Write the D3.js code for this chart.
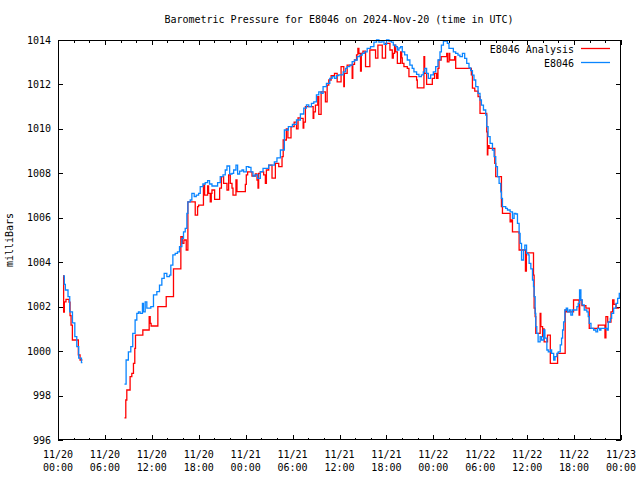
<!DOCTYPE html>
<html>
<head>
<meta charset="utf-8">
<script src="https://cdn.jsdelivr.net/npm/d3@7"></script>
<style>
html,body{margin:0;padding:0;background:#fff;}
svg text{font-family:"DejaVu Sans Mono","Liberation Mono",monospace;font-size:10px;fill:#000;}
</style>
</head>
<body>
<svg id="chart" width="640" height="480"></svg>
<script>
// ---- data (hours after 2024-11-20 00:00 UTC, pressure in mb) ----
const titleText = "Barometric Pressure for E8046 on 2024-Nov-20 (time in UTC)";
const yLabel = "milliBars";
const seriesNames = ["E8046 Analysis", "E8046"];
const seriesColors = ["#ff0000", "#0a85ff"];

const yTicks = [996, 998, 1000, 1002, 1004, 1006, 1008, 1010, 1012, 1014];
const xTickHours = [0, 6, 12, 18, 24, 30, 36, 42, 48, 54, 60, 66, 72];
const xTickDates = ["11/20","11/20","11/20","11/20","11/21","11/21","11/21","11/21","11/22","11/22","11/22","11/22","11/23"];
const xTickTimes = ["00:00","06:00","12:00","18:00","00:00","06:00","12:00","18:00","00:00","06:00","12:00","18:00","00:00"];

const analysisHours = [
 0.68,0.72,0.81,1.02,1.41,1.54,1.67,1.84,2.60,2.82,3.12, 5,
 8.50,8.67,8.80,9.22,9.44,9.65,9.82,9.91,10.85,11.66,11.79,11.91,12.77,13.84,14.77,
 15.71,15.90,16.10,16.40,16.61,17.55,17.85,17.98,18.60,18.75,19.13,19.26,19.47,19.60,19.69,
 20.03,20.67,20.90,21.18,21.61,21.82,22.03,22.25,22.38,22.76,22.89,23.96,24.08,24.25,24.81,
 25.24,25.45,25.58,25.66,25.88,26.30,26.52,26.65,26.95,27.37,27.80,28.23,28.65,28.80,29.20,
 29.40,29.80,30.20,30.50,30.70,31.00,31.35,31.43,31.64,32.63,32.71,32.92,33.22,33.35,33.65,
 34.20,34.42,34.63,34.93,35.36,35.70,36.20,36.55,36.62,36.98,37.62,37.70,37.92,38.18,38.35,
 38.48,38.69,38.79,39.00,39.33,39.88,40.61,40.91,41.47,41.89,42.45,42.75,42.88,43.04,43.18,
 43.40,43.82,43.95,44.03,44.24,44.67,44.88,45.86,45.95,46.80,46.89,47.14,47.87,48.16,48.42,
 48.59,48.72,49.00,49.71,49.79,50.00,50.10,50.73,50.86,52.86,53.00,53.30,53.72,53.97,54.83,
 54.91,54.97,55.13,55.86,55.98,56.71,56.84,57.82,57.95,58.12,58.97,59.78,59.90,60.81,60.89,
 61.02,61.10,61.66,61.75,61.97,62.10,62.17,62.60,62.96,63.89,64.86,65.00,65.93,66.64,66.72,
 67.00,67.51,67.94,69.09,69.95,70.07,70.30,70.72,70.93,71.10,71.36,71.78
];
const analysisPressure = [
 1003.4,1001.75,1002.22,1002.33,1002.2,1001.6,1001.17,1000.5,999.83,999.6,999.6, null,
 997.0,997.8,998.25,998.85,999.0,999.45,1000.12,1000.72,1000.95,1001.55,1001.25,1001.13,1002.0,1002.45,1003.7,
 1005.15,1004.85,1005.0,1004.55,1006.72,1006.12,1006.5,1006.57,1007.47,1007.02,1007.43,1007.1,1006.72,1007.1,1007.25,
 1006.83,1007.33,1007.85,1007.55,1007.25,1007.93,1007.55,1007.33,1007.02,1007.7,1007.18,1007.5,1007.93,1008.07,1007.88,
 1007.97,1007.7,1007.33,1008.0,1008.07,1007.93,1007.55,1008.15,1008.37,1007.78,1008.45,1008.3,1008.75,1009.5,1010.0,
 1009.6,1010.1,1010.3,1010.0,1010.5,1010.47,1010.03,1010.3,1011.0,1010.47,1010.77,1011.07,1011.45,1010.65,1011.67,
 1011.22,1011.97,1012.2,1012.4,1012.5,1012.12,1012.8,1011.9,1012.5,1012.87,1012.27,1012.9,1013.1,1013.33,1013.62,
 1013.4,1012.6,1013.4,1013.5,1012.8,1013.55,1013.18,1013.77,1013.18,1013.85,1013.55,1013.18,1013.4,1013.77,1013.47,
 1012.95,1013.47,1013.2,1012.95,1012.8,1012.72,1012.35,1012.2,1011.85,1013.25,1012.5,1012.0,1012.27,1012.5,1012.27,
 1012.72,1013.1,1013.25,1013.4,1013.02,1013.4,1013.1,1013.25,1012.72,1012.43,1011.83,1011.7,1011.45,1010.7,1009.87,
 1008.83,1009.25,1009.12,1008.45,1007.85,1006.5,1006.2,1005.82,1005.9,1005.37,1004.55,1003.6,1004.42,1003.42,1001.93,
 1001.55,1000.8,1001.7,1001.1,1000.65,1001.0,1000.42,1000.72,999.45,999.9,1001.85,1001.77,1002.3,1001.62,1002.3,
 1002.05,1001.93,1001.02,1001.17,1000.6,1001.55,1001.3,1001.77,1002.3,1002.1,1001.93,1001.93
];

const stationHours = [
 0.68,0.81,0.94,1.28,1.50,1.85,2.15,2.40,2.65,3.00,3.12, 5,
 8.50,8.71,9.00,9.31,9.56,9.86,10.08,10.29,10.50,10.80,10.93,11.15,11.36,11.87,12.21,12.64,12.98,
 13.28,13.58,13.92,14.26,14.43,14.69,14.99,15.28,15.54,15.84,16.05,16.27,16.48,16.61,16.91,17.12,
 17.42,17.68,17.98,18.19,18.53,18.83,19.13,19.38,19.69,20.10,20.41,20.75,21.10,21.39,21.61,21.95,
 22.25,22.46,22.76,22.97,23.23,23.53,23.74,24.08,24.40,24.68,24.94,25.20,25.53,25.88,26.22,26.65,
 26.94,27.37,27.67,28.00,28.44,28.95,29.46,29.98,30.50,31.00,31.43,31.77,32.07,32.41,32.71,33.05,
 33.35,33.65,33.90,34.33,34.76,35.06,35.36,35.61,35.90,36.47,36.77,36.98,37.32,37.62,37.92,38.27,
 38.60,38.90,39.20,39.54,39.97,40.40,40.74,41.04,41.35,41.70,42.02,42.32,42.63,42.88,43.18,43.40,
 43.60,43.82,44.03,44.33,44.67,45.00,45.30,45.52,45.86,46.16,46.47,46.72,46.89,47.14,47.36,47.66,
 48.00,48.30,48.59,48.85,49.03,49.29,49.79,50.00,50.56,50.86,51.15,51.40,51.72,52.01,52.27,52.56,
 52.78,53.00,53.20,53.42,53.72,53.97,54.15,54.41,54.70,54.83,55.00,55.26,55.56,55.77,55.98,56.20,
 56.41,56.62,56.71,56.84,57.26,57.48,57.82,58.12,58.33,58.55,58.76,58.97,59.10,59.28,59.53,59.70,
 59.92,60.12,60.25,60.47,60.68,60.81,60.89,61.02,61.10,61.23,61.40,61.66,61.84,62.10,62.27,62.52,
 62.70,62.96,63.13,63.39,63.56,63.80,63.97,64.23,64.40,64.53,64.66,64.82,65.00,65.17,65.38,65.59,
 65.80,66.36,66.53,66.70,66.87,67.04,67.30,67.64,67.81,67.94,68.16,68.50,68.79,69.01,69.27,69.43,
 69.95,70.20,70.37,70.63,70.80,71.06,71.36,71.57,71.78,71.90
];
const stationPressure = [
 1003.38,1003.0,1002.75,1002.45,1001.77,1001.27,1000.65,1000.2,999.68,999.48,999.48, null,
 998.51,999.6,999.97,1000.2,1000.8,1001.4,1001.7,1001.77,1001.7,1002.15,1001.77,1002.22,1001.93,1002.0,1002.53,1002.68,1002.97,
 1003.27,1003.5,1003.35,1003.42,1003.87,1004.33,1004.4,1004.47,1004.7,1005.07,1005.37,1005.52,1006.2,1006.72,1006.8,1007.1,
 1006.95,1007.02,1007.1,1007.4,1007.52,1007.58,1007.67,1007.52,1007.43,1007.43,1007.58,1007.85,1007.93,1008.15,1008.33,1007.97,
 1008.0,1008.15,1008.37,1007.97,1008.1,1008.15,1008.07,1008.3,1008.27,1008.07,1007.88,1007.93,1007.77,1008.08,1008.22,1008.22,
 1008.37,1008.37,1008.52,1008.7,1009.05,1009.95,1010.1,1010.2,1010.4,1010.67,1010.93,1011.08,1011.0,1011.15,1011.22,1011.53,
 1011.67,1011.6,1011.9,1012.05,1012.27,1012.35,1012.27,1012.4,1012.43,1012.57,1012.72,1012.8,1012.87,1013.03,1013.1,1013.25,
 1013.32,1013.4,1013.47,1013.62,1013.7,1013.9,1014.0,1013.9,1013.92,1013.8,1014.0,1013.95,1013.9,1013.77,1013.7,1013.55,
 1013.65,1013.7,1013.47,1013.33,1013.1,1012.87,1012.72,1012.57,1012.45,1012.35,1012.43,1012.57,1012.72,1012.5,1012.27,1012.43,
 1012.57,1012.8,1013.1,1013.47,1013.77,1013.95,1013.85,1013.62,1013.47,1013.4,1013.32,1013.25,1013.4,1013.17,1012.95,1012.75,
 1012.62,1012.42,1012.2,1011.9,1011.6,1011.3,1011.07,1010.85,1010.62,1010.1,1009.65,1009.35,1009.05,1008.75,1008.3,1007.85,
 1007.55,1007.17,1006.87,1006.5,1006.42,1006.35,1006.27,1005.97,1006.2,1006.17,1005.75,1005.3,1004.85,1004.1,1004.55,1004.77,
 1004.4,1004.33,1003.95,1003.7,1003.2,1002.9,1002.45,1001.7,1001.1,1000.8,1000.42,1000.65,1000.5,1000.95,1000.58,1000.05,
 999.97,1000.05,999.9,999.6,999.75,999.9,999.97,1000.28,1000.58,1000.95,1001.32,1001.85,1001.93,1001.77,1001.85,1001.62,
 1001.85,1002.0,1002.15,1002.75,1002.3,1002.08,1001.85,1001.77,1001.55,1001.25,1001.02,1000.95,1000.87,1001.02,1000.95,1001.02,
 1001.02,1000.95,1001.32,1001.47,1001.7,1001.93,1002.15,1002.37,1002.6,1002.6
];

// ---- drawing ----
const svg = d3.select("#chart");
const mLeft = 58, mRight = 621, mTop = 40, mBottom = 440;

const x = d3.scaleLinear().domain([0, 72]).range([mLeft, mRight]);
const y = d3.scaleLinear().domain([996, 1014]).range([mBottom, mTop]);

const minorHours = d3.range(0, 73, 2).filter(h => h % 6 !== 0);

// title
svg.append("text").attr("x", 339).attr("y", 23).attr("text-anchor", "middle").text(titleText);

// y label
svg.append("text").attr("transform", "translate(13,240) rotate(-90)")
  .attr("text-anchor", "middle").text(yLabel);

// ticks (inward on all sides)
function styleAxis(g) {
  g.select(".domain").remove();
  g.selectAll("line").attr("stroke", "#000").attr("stroke-width", 1).attr("shape-rendering", "crispEdges");
}
svg.append("g").attr("transform", `translate(0,${mBottom})`)
  .call(d3.axisBottom(x).tickValues(xTickHours).tickSize(-5).tickFormat(() => ""))
  .call(styleAxis);
svg.append("g").attr("transform", `translate(0,${mBottom})`)
  .call(d3.axisBottom(x).tickValues(minorHours).tickSize(-2.5).tickFormat(() => ""))
  .call(styleAxis);
svg.append("g").attr("transform", `translate(0,${mTop})`)
  .call(d3.axisTop(x).tickValues(xTickHours).tickSize(-5).tickFormat(() => ""))
  .call(styleAxis);
svg.append("g").attr("transform", `translate(0,${mTop})`)
  .call(d3.axisTop(x).tickValues(minorHours).tickSize(-2.5).tickFormat(() => ""))
  .call(styleAxis);
svg.append("g").attr("transform", `translate(${mLeft},0)`)
  .call(d3.axisLeft(y).tickValues(yTicks).tickSize(-5).tickFormat(() => ""))
  .call(styleAxis);
svg.append("g").attr("transform", `translate(${mRight},0)`)
  .call(d3.axisRight(y).tickValues(yTicks).tickSize(-5).tickFormat(() => ""))
  .call(styleAxis);

// tick labels
svg.append("g").selectAll("text").data(yTicks).join("text")
  .attr("x", mLeft - 7).attr("y", d => y(d)).attr("dy", "0.35em")
  .attr("text-anchor", "end").text(d => d);

const xl = svg.append("g").selectAll("text").data(xTickHours).join("text")
  .attr("text-anchor", "middle");
xl.append("tspan").attr("x", d => x(d)).attr("y", 458).text((d, i) => xTickDates[i]);
xl.append("tspan").attr("x", d => x(d)).attr("y", 471).text((d, i) => xTickTimes[i]);

// clip
svg.append("clipPath").attr("id", "plotclip").append("rect")
  .attr("x", mLeft).attr("y", mTop - 1).attr("width", mRight - mLeft).attr("height", mBottom - mTop + 2);

const series = [
  {hours: analysisHours, values: analysisPressure},
  {hours: stationHours, values: stationPressure}
];
const line = d3.line().curve(d3.curveStepAfter);
const plot = svg.append("g").attr("clip-path", "url(#plotclip)");
series.forEach((s, k) => {
  const n = Math.min(s.hours.length, s.values.length);
  const pts = s.hours.slice(0, n).map((h, i) => [h, s.values[i]]);
  line.defined(d => d[1] != null).x(d => x(d[0])).y(d => y(d[1]));
  plot.append("path").attr("d", line(pts)).attr("fill", "none")
    .attr("stroke", seriesColors[k]).attr("stroke-width", 1.3)
    .attr("stroke-linejoin", "miter");
});

// frame
svg.append("rect").attr("x", mLeft + 0.5).attr("y", mTop + 0.5)
  .attr("width", mRight - mLeft - 1).attr("height", mBottom - mTop - 1)
  .attr("fill", "none").attr("stroke", "#000").attr("stroke-width", 1);

// legend
const legY = [49, 63];
seriesNames.forEach((name, k) => {
  svg.append("text").attr("x", 574).attr("y", legY[k]).attr("dy", "0.35em")
    .attr("text-anchor", "end").text(name);
  svg.append("line").attr("x1", 581).attr("x2", 610).attr("y1", legY[k] - 0.5).attr("y2", legY[k] - 0.5)
    .attr("stroke", seriesColors[k]).attr("stroke-width", 1.3);
});
</script>
</body>
</html>
